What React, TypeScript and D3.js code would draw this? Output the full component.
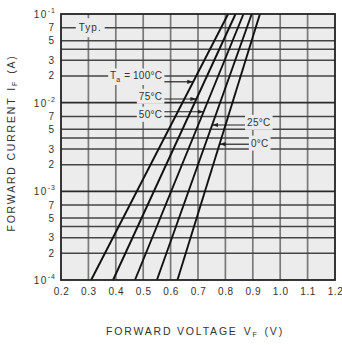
import * as d3 from 'd3';
import React, { useEffect, useRef } from 'react';

// x axis ticks (forward voltage, V)
const voltageTicks = [0.2, 0.3, 0.4, 0.5, 0.6, 0.7, 0.8, 0.9, 1.0, 1.1, 1.2];
// y axis decades (forward current, A)
const decadeTicks = [1e-4, 1e-3, 1e-2, 1e-1];
const decadeExponents = [-4, -3, -2, -1];
const gridMantissas = [2, 3, 4, 5, 7];
const labelMantissas = [2, 3, 5, 7];

// one straight line per ambient temperature (semi-log), read at both ends
const temperatures = ['100°C', '75°C', '50°C', '25°C', '0°C'];
const vfAt100uA = [0.31, 0.39, 0.47, 0.55, 0.625];
const vfAt100mA = [0.81, 0.837, 0.866, 0.896, 0.926];

export default function App() {
    const svgRef = useRef<SVGSVGElement>(null);

    useEffect(() => {
        const svg = d3.select(svgRef.current);
        svg.selectAll('*').remove();

        const left = 61, right = 335, top = 14, bottom = 280;
        const x = d3.scaleLinear().domain([0.2, 1.2]).range([left, right]);
        const y = d3.scaleLog().domain([1e-4, 1e-1]).range([bottom, top]);
        const font = '"Liberation Sans", Arial, sans-serif';
        const ink = '#333';
        const paper = '#ececec';

        svg.append('defs').append('marker')
            .attr('id', 'arrow')
            .attr('viewBox', '0 0 10 10')
            .attr('refX', 10).attr('refY', 5)
            .attr('markerWidth', 5).attr('markerHeight', 5)
            .attr('orient', 'auto')
            .append('path').attr('d', 'M0,1.5 L10,5 L0,8.5 Z').attr('fill', '#222');

        svg.append('rect')
            .attr('x', left).attr('y', top)
            .attr('width', right - left).attr('height', bottom - top)
            .attr('fill', paper);

        // --- grid ---
        svg.append('g').selectAll('line')
            .data(voltageTicks.slice(1, -1))
            .join('line')
            .attr('x1', d => x(d)).attr('x2', d => x(d))
            .attr('y1', top).attr('y2', bottom)
            .attr('stroke', '#7a7a7a').attr('stroke-width', 1.7);

        const minorValues = decadeTicks.slice(0, -1).flatMap(d => gridMantissas.map(m => m * d));
        svg.append('g').selectAll('line')
            .data(minorValues)
            .join('line')
            .attr('x1', left).attr('x2', right)
            .attr('y1', d => y(d)).attr('y2', d => y(d))
            .attr('stroke', '#454545').attr('stroke-width', 1.5);
        svg.append('g').selectAll('line')
            .data(decadeTicks.slice(1, -1))
            .join('line')
            .attr('x1', left).attr('x2', right)
            .attr('y1', d => y(d)).attr('y2', d => y(d))
            .attr('stroke', '#2a2a2a').attr('stroke-width', 1.7);

        // --- x axis labels ---
        const xAxis = d3.axisBottom(x)
            .tickValues(voltageTicks)
            .tickFormat(d3.format('.1f'))
            .tickSize(0)
            .tickPadding(8);
        const xg = svg.append('g').attr('transform', `translate(0,${bottom})`).call(xAxis);
        xg.select('.domain').remove();
        xg.selectAll('text')
            .attr('fill', ink)
            .style('font-family', font)
            .style('font-size', '10px')
            .style('letter-spacing', '0.6px');

        // --- y axis labels ---
        decadeTicks.forEach((d, i) => {
            const t = svg.append('text')
                .attr('x', 56).attr('y', y(d) + 4)
                .attr('text-anchor', 'end')
                .attr('fill', ink)
                .style('font-family', font)
                .style('font-size', '10px');
            t.append('tspan').style('letter-spacing', '1.5px').text('10');
            t.append('tspan').attr('dy', -5).style('font-size', '7px').style('letter-spacing', '1px').text(String(decadeExponents[i]));
        });
        const minorLabels = decadeTicks.slice(0, -1).flatMap(d => labelMantissas.map(m => ({ v: m * d, m })));
        svg.append('g').selectAll('text')
            .data(minorLabels)
            .join('text')
            .attr('x', 54).attr('y', d => y(d.v) + 3.5)
            .attr('text-anchor', 'end')
            .attr('fill', ink)
            .style('font-family', font)
            .style('font-size', '10px')
            .text(d => d.m);

        // --- axis titles ---
        const xt = svg.append('text')
            .attr('x', 195).attr('y', 335)
            .attr('text-anchor', 'middle')
            .attr('fill', ink)
            .style('font-family', font)
            .style('font-size', '10.5px')
            .style('letter-spacing', '1.8px');
        xt.append('tspan').text('FORWARD VOLTAGE');
        xt.append('tspan').attr('dx', 6).text('V');
        xt.append('tspan').attr('dy', 2).style('font-size', '7px').text('F');
        xt.append('tspan').attr('dy', -2).attr('dx', 6).text('(V)');

        const yt = svg.append('text')
            .attr('transform', 'translate(15,143) rotate(-90)')
            .attr('text-anchor', 'middle')
            .attr('fill', ink)
            .style('font-family', font)
            .style('font-size', '10.5px')
            .style('letter-spacing', '1.8px');
        yt.append('tspan').text('FORWARD CURRENT');
        yt.append('tspan').attr('dx', 6).text('I');
        yt.append('tspan').attr('dy', 2).style('font-size', '7px').text('F');
        yt.append('tspan').attr('dy', -2).attr('dx', 6).text('(A)');

        // --- annotations: label, background box, leader to its line ---
        const labelGroup = svg.append('g');
        const boxed = (sel: d3.Selection<SVGTextElement, unknown, null, undefined>, padX: number, padY: number) => {
            const b = (sel.node() as SVGTextElement).getBBox();
            labelGroup.insert('rect', ':first-child')
                .attr('x', b.x - padX).attr('y', b.y - padY)
                .attr('width', b.width + 2 * padX).attr('height', b.height + 2 * padY)
                .attr('fill', paper);
        };
        const label = (vx: number, iy: number, anchor: string) => labelGroup.append('text')
            .attr('x', x(vx)).attr('y', y(iy) + 3.5)
            .attr('text-anchor', anchor)
            .attr('fill', ink)
            .style('font-family', font)
            .style('font-size', '10px');

        const typ = label(0.265, 7e-2, 'start');
        typ.text('Typ.').style('letter-spacing', '1px');
        boxed(typ, 3, 4);

        // label anchor (V, A) and the current where each leader meets its line
        const labelAt: [number, number, string][] = [
            [0.57, 2e-2, 'end'], [0.57, 0.0118, 'end'], [0.57, 0.0074, 'end'],
            [0.879, 0.006, 'start'], [0.893, 0.0035, 'start'],
        ];
        const leaderAt = [0.0172, 0.011, 0.0079, 0.0056, 0.0034];

        temperatures.forEach((tName, i) => {
            const [lv, li, anchor] = labelAt[i];
            const t = label(lv, li, anchor);
            if (i === 0) {
                t.append('tspan').text('T');
                t.append('tspan').attr('dy', 2.5).style('font-size', '7px').text('a');
                t.append('tspan').attr('dy', -2.5).attr('dx', 4).text('=');
                t.append('tspan').attr('dx', 3).style('letter-spacing', '0.3px').text(tName);
            } else {
                t.style('letter-spacing', '0.3px').text(tName);
            }
            boxed(t, 2, 2);

            const b = (t.node() as SVGTextElement).getBBox();
            const frac = (Math.log10(leaderAt[i]) + 4) / 3;
            const vOnLine = vfAt100uA[i] + (vfAt100mA[i] - vfAt100uA[i]) * frac;
            const startX = anchor === 'end' ? b.x + b.width + 2 : b.x - 2;
            svg.append('line')
                .attr('x1', startX).attr('y1', y(leaderAt[i]))
                .attr('x2', x(vOnLine)).attr('y2', y(leaderAt[i]))
                .attr('stroke', '#222').attr('stroke-width', 1.2)
                .attr('marker-end', 'url(#arrow)');
        });

        // --- characteristic lines ---
        const line = d3.line<[number, number]>().x(d => x(d[0])).y(d => y(d[1]));
        svg.append('g').selectAll('path')
            .data(temperatures.map((_, i) => [[vfAt100uA[i], 1e-4], [vfAt100mA[i], 1e-1]] as [number, number][]))
            .join('path')
            .attr('d', d => line(d))
            .attr('fill', 'none')
            .attr('stroke', '#111')
            .attr('stroke-width', 1.9);

        // --- frame ---
        svg.append('rect')
            .attr('x', left).attr('y', top)
            .attr('width', right - left).attr('height', bottom - top)
            .attr('fill', 'none')
            .attr('stroke', '#222').attr('stroke-width', 1.8);
    }, []);

    return (
        <svg
            ref={svgRef}
            width={342}
            height={345}
            style={{ position: 'absolute', left: 0, top: 0, background: '#fff' }}
        />
    );
}
